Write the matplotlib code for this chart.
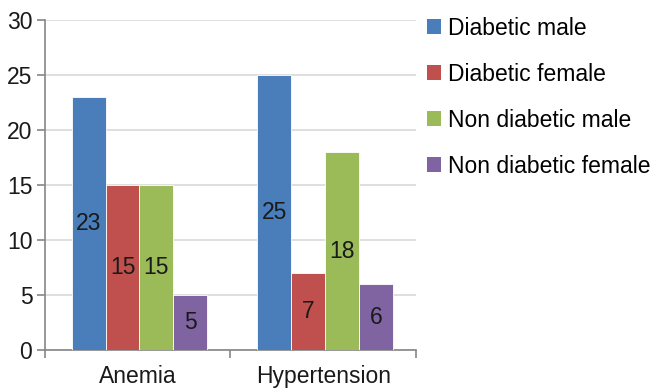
import numpy as np
import matplotlib.pyplot as plt
from matplotlib.patches import Patch

plt.rcParams['font.family'] = ['Liberation Sans', 'DejaVu Sans']

categories = ['Anemia', 'Hypertension']
series = ['Diabetic male', 'Diabetic female', 'Non diabetic male', 'Non diabetic female']
diabetic_male = [23, 25]
diabetic_female = [15, 7]
non_diabetic_male = [15, 18]
non_diabetic_female = [5, 6]
colors = ['#4a7ebb', '#c0504d', '#9bbb59', '#8064a2']

values = [diabetic_male, diabetic_female, non_diabetic_male, non_diabetic_female]
fs = 16.5

fig = plt.figure(figsize=(6.5, 3.89), dpi=100)
ax = fig.add_axes([0.069, 0.100, 0.571, 0.848])

x = np.arange(len(categories))
w = 0.183
for i, (vals, col) in enumerate(zip(values, colors)):
    pos = x + (i - 1.5) * w + 0.01
    bars = ax.bar(pos, vals, w, color=col, edgecolor='white', linewidth=0.6, zorder=3)
    for b, v in zip(bars, vals):
        ax.text(b.get_x() + b.get_width() / 2, v / 2, str(v), ha='center', va='center',
                fontsize=fs, color='#1a1a1a', zorder=4)

ax.set_xlim(-0.5, 1.5)
ax.set_ylim(0, 30)
ax.set_yticks(range(0, 31, 5))
ax.yaxis.grid(True, color='#d9d9d9', linewidth=1.2, zorder=0)
ax.set_xticks(x)
ax.set_xticklabels(categories, fontsize=fs, color='#1a1a1a')
ax.set_xticks([-0.5, 0.5, 1.5], minor=True)
ax.tick_params(axis='x', which='major', length=0, pad=11)
ax.tick_params(axis='x', which='minor', length=6, color='#868686', width=1.2)
ax.tick_params(axis='y', length=6, color='#868686', width=1.2, labelsize=fs,
               labelcolor='#1a1a1a', pad=3)

for s in ['top', 'right']:
    ax.spines[s].set_visible(False)
for s in ['left', 'bottom']:
    ax.spines[s].set_color('#868686')
    ax.spines[s].set_linewidth(1.2)

handles = [Patch(facecolor=c, edgecolor='none') for c in colors]
fig.legend(handles, series, loc='upper left', bbox_to_anchor=(0.643, 0.98),
           frameon=False, fontsize=fs, handlelength=0.62, handleheight=0.62,
           handletextpad=0.3, labelspacing=1.0, borderaxespad=0)

fig.savefig('out.png', dpi=100)
